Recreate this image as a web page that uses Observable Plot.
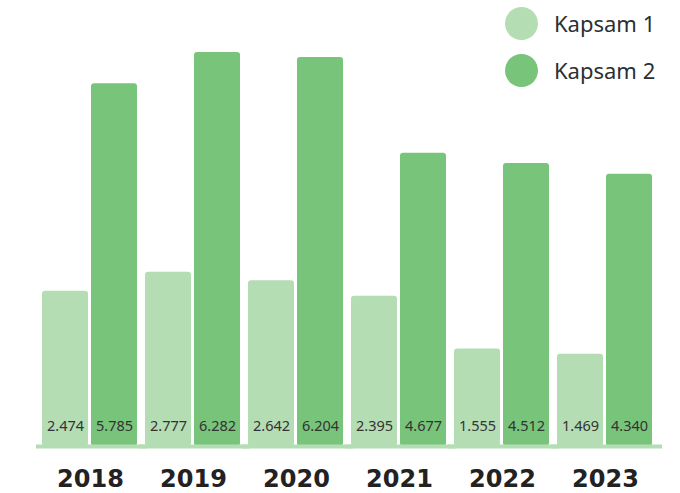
<!DOCTYPE html>
<html><head><meta charset="utf-8">
<script src="https://cdn.jsdelivr.net/npm/d3@7"></script>
<script src="https://cdn.jsdelivr.net/npm/@observablehq/plot@0.6"></script>
<style>
body{margin:0;background:#fff;}
#wrap{position:relative;width:680px;height:493px;}
#legend{position:absolute;left:505px;top:6px;font-family:"Noto Sans",sans-serif;font-size:22px;color:#2b2f33;}
#legend .item{display:flex;align-items:center;height:34px;margin-bottom:13px;}
#legend .sw{width:33px;height:33px;border-radius:50%;margin-right:16px;}
</style></head>
<body><div id="wrap"><div id="legend"></div></div>
<script>
const years = ["2018","2019","2020","2021","2022","2023"];
const seriesNames = ["Kapsam 1","Kapsam 2"];
const kapsam1 = [2.474, 2.777, 2.642, 2.395, 1.555, 1.469];
const kapsam2 = [5.785, 6.282, 6.204, 4.677, 4.512, 4.340];
const colors = ["#b4ddb4", "#78c47a"];

const data = [];
years.forEach((y, i) => {
  data.push({year: y, series: seriesNames[0], value: kapsam1[i]});
  data.push({year: y, series: seriesNames[1], value: kapsam2[i]});
});
const fmt = d3.format(".3f");

const chart = Plot.plot({
  width: 680, height: 493,
  marginLeft: 39, marginRight: 25, marginTop: 7, marginBottom: 47,
  style: {background: "transparent"},
  fx: {domain: years, paddingInner: 0.07, paddingOuter: 0, label: null, axis: null},
  x: {domain: seriesNames, paddingInner: 0.06, paddingOuter: 0, axis: null},
  y: {domain: [0, 7], axis: null},
  color: {domain: seriesNames, range: colors},
  marks: [
    Plot.barY(data, {fx: "year", x: "series", y: "value", fill: "series", rx: 3}),
    Plot.ruleY([0], {stroke: "#b4ddb4", strokeWidth: 4, insetLeft: -6, insetRight: -9}),
    Plot.text(data, {fx: "year", x: "series", y: 0, text: d => fmt(d.value), dy: -20,
      fontSize: 14.5, fill: "#333", fontFamily: "Noto Sans, sans-serif"}),
    Plot.axisFx({anchor: "bottom", tickSize: 0, tickPadding: 23, fontSize: 24, fontWeight: "bold",
      fontFamily: "DejaVu Sans, sans-serif", fill: "#222", label: null})
  ]
});
document.getElementById("wrap").appendChild(chart);

const lg = document.getElementById("legend");
seriesNames.forEach((s, i) => {
  const it = document.createElement("div"); it.className = "item";
  const sw = document.createElement("div"); sw.className = "sw"; sw.style.background = colors[i];
  const t = document.createElement("span"); t.textContent = s;
  it.appendChild(sw); it.appendChild(t); lg.appendChild(it);
});
</script></body></html>
